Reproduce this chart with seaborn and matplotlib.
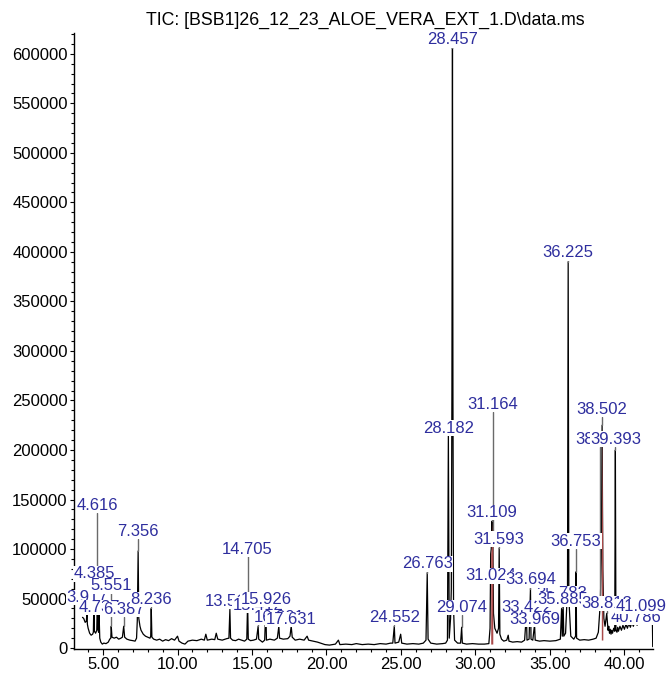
import numpy as np
import pandas as pd
import seaborn as sns
import matplotlib.pyplot as plt
from matplotlib.ticker import MultipleLocator, FormatStrFormatter

# retention time (min) and abundance
rt = [3.62, 3.70, 3.80, 3.88, 3.917, 3.95, 4.00, 4.10, 4.20, 4.30, 4.35, 4.385, 4.42, 4.50,
      4.58, 4.616, 4.65, 4.70, 4.737, 4.78, 4.85, 4.95, 5.05, 5.20, 5.35, 5.45, 5.52, 5.551,
      5.60, 5.75, 5.90, 6.05, 6.20, 6.30, 6.387, 6.45, 6.60, 6.80, 7.00, 7.15, 7.25, 7.30,
      7.356, 7.40, 7.48, 7.55, 7.70, 7.85, 8.00, 8.15, 8.20, 8.236, 8.28, 8.40, 8.60, 8.80,
      9.00, 9.20, 9.40, 9.60, 9.80, 10.00, 10.10, 10.30, 10.50, 10.70, 11.00, 11.30, 11.60,
      11.80, 11.90, 12.00, 12.30, 12.50, 12.60, 12.70, 13.00, 13.30, 13.45, 13.515, 13.56,
      13.70, 13.90, 14.10, 14.30, 14.50, 14.65, 14.705, 14.75, 14.90, 15.10, 15.30, 15.412,
      15.45, 15.70, 15.85, 15.926, 15.97, 16.20, 16.50, 16.70, 16.801, 16.85, 17.10, 17.40,
      17.55, 17.631, 17.70, 17.90, 18.20, 18.50, 18.70, 18.80, 19.10, 19.40, 19.60, 19.90,
      20.20, 20.60, 20.80, 20.90, 21.30, 21.70, 22.00, 22.40, 22.80, 23.20, 23.60, 24.00,
      24.30, 24.45, 24.552, 24.60, 24.85, 24.98, 25.05, 25.40, 25.80, 26.20, 26.50, 26.68,
      26.763, 26.82, 27.00, 27.40, 27.80, 28.00, 28.12, 28.182, 28.24, 28.33, 28.38, 28.42,
      28.457, 28.49, 28.53, 28.60, 28.80, 29.00, 29.074, 29.12, 29.40, 29.80, 30.20, 30.60,
      30.90, 30.98, 31.024, 31.06, 31.109, 31.14, 31.164, 31.21, 31.30, 31.45, 31.55, 31.593,
      31.64, 31.75, 31.90, 32.10, 32.20, 32.25, 32.50, 32.80, 33.10, 33.30, 33.422, 33.46,
      33.60, 33.694, 33.73, 33.85, 33.969, 34.01, 34.30, 34.60, 35.00, 35.40, 35.70, 35.783,
      35.83, 35.885, 35.93, 36.05, 36.18, 36.225, 36.27, 36.40, 36.60, 36.72, 36.753, 36.79,
      37.00, 37.30, 37.60, 37.90, 38.10, 38.25, 38.38, 38.45, 38.502, 38.55, 38.62, 38.70,
      38.813,
      38.90, 38.95, 39.00, 39.05, 39.10, 39.15, 39.20, 39.28, 39.35, 39.393, 39.43, 39.50,
      39.55, 39.60, 39.70, 39.80, 39.90, 40.00, 40.10, 40.20, 40.30, 40.40, 40.50, 40.60,
      40.70, 40.786, 40.85, 40.95, 41.05, 41.099, 41.15, 41.25, 41.35, 41.45, 41.55, 41.65,
      41.75, 41.85, 41.88, 41.90]
abundance = [31000, 30000, 26000, 27000, 35000, 24000, 20000, 15000, 13000, 14000, 16000, 46000,
             17000, 15000, 18000, 48000, 20000, 16000, 33000, 10000, 6000, 4000, 5000, 4500,
             6000, 9000, 10000, 22000, 11000, 10000, 11000, 9000, 10000, 11000, 22000, 11000,
             9000, 8000, 7500, 7000, 10000, 28000, 98000, 30000, 22000, 18000, 14000, 12000,
             11000, 10000, 12000, 40000, 11000, 9000, 8000, 9000, 7000, 8500, 7500, 9500, 8000,
             12000, 7000, 5000, 4000, 7000, 8000, 7500, 9000, 8000, 14000, 8000, 9000, 8500,
             15000, 9000, 8000, 9500, 10000, 39000, 10000, 8000, 7500, 9000, 8000, 7000, 9000,
             46000, 9000, 7500, 8000, 9000, 22000, 9000, 6000, 8000, 40000, 8000, 9000, 8000,
             10000, 22000, 10000, 9000, 9500, 12000, 22000, 11000, 8000, 9000, 8000, 12000, 8000,
             7000, 6000, 5000, 3500, 3000, 4000, 8000, 3500, 4000, 3500, 4500, 3500, 4000, 3500,
             4500, 4000, 5000, 5000, 22000, 5000, 6000, 14000, 5000, 4000, 4500, 4000, 5000,
             8000, 76000, 9000, 5000, 4000, 4500, 5000, 8000, 216000, 10000, 30000, 60000,
             260000, 606000, 250000, 40000, 8000, 5000, 5000, 21000, 5000, 4000, 4500, 4000,
             4000, 4500, 20000, 95000, 100000, 128000, 105000, 118000, 35000, 20000, 15000,
             20000, 101000, 14000, 9000, 7000, 8000, 13000, 7000, 6000, 6500, 6000, 8000, 35000,
             8000, 9000, 60000, 9000, 8000, 24000, 8000, 7000, 7500, 7000, 7500, 9000, 40000,
             12000, 45000, 12000, 15000, 60000, 390000, 50000, 12000, 9000, 12000, 77000, 10000,
             8000, 8500, 8000, 9000, 10000, 16000, 45000, 90000, 225000, 80000, 30000, 22000,
             35000,
             18000, 22000, 15000, 19000, 14000, 18000, 15000, 20000, 17000, 200000, 18000, 16000,
             21000, 17000, 22000, 18000, 23000, 19000, 24000, 20000, 25000, 21000, 26000, 22000,
             27000, 30000, 23000, 28000, 25000, 31000, 26000, 29000, 26000, 30000, 26000, 29000,
             27000, 29000, 27000, 1500]
assert len(rt) == len(abundance)

# integrated peak bodies drawn in red by the data system
red_windows = [(31.0, 31.17), (38.44, 38.56)]

# peak labels (drawing order) and the height their text sits at
peak_labels = ["3.917", "4.385", "5.551", "4.737", "4.616", "6.387", "7.356", "8.236",
               "13.515", "15.412", "15.926", "14.705", "16.801", "17.631", "24.552", "26.763",
               "28.182", "28.457", "29.074", "31.164", "31.109", "31.593", "31.024", "33.422",
               "33.969", "35.783", "33.694", "35.885", "36.225", "36.753", "38.502", "38.380",
               "39.393", "38.813", "40.786", "41.099"]
label_y = [51000, 75000, 63000, 41000, 144000, 39000, 118000, 49000,
           47000, 43000, 49000, 100000, 31000, 29000, 31000, 85000,
           222000, 614000, 41000, 246000, 137000, 110000, 73000, 41000,
           29000, 55000, 69000, 49000, 399000, 108000, 241000, 211000,
           211000, 45000, 31000, 42000]

y_ticks = [0, 50000, 100000, 150000, 200000, 250000, 300000, 350000, 400000, 450000,
           500000, 550000, 600000]

df = pd.DataFrame({"rt": rt, "abundance": abundance})

sns.set_theme(style="ticks")
plt.rcParams['font.family'] = ['Liberation Sans', 'DejaVu Sans']

fig = plt.figure(figsize=(6.69, 6.74), dpi=100)
ax = fig.add_axes([0.1106, 0.037, 0.8655, 0.914])

sns.lineplot(data=df, x="rt", y="abundance", ax=ax, color="black", linewidth=0.9,
             sort=False, estimator=None, zorder=2)

base = np.interp(rt, [3.6, 20, 31, 38, 42], [6000, 4000, 4000, 8000, 9000])
for lo, hi in red_windows:
    m = (df["rt"] >= lo) & (df["rt"] <= hi)
    ax.fill_between(df["rt"][m], base[m.values], df["abundance"][m], color="#a94a4a",
                    linewidth=0, zorder=2.1)

half_h = 7500  # half text height in data units
for i, lab in enumerate(peak_labels):
    x = float(lab)
    apex = np.interp(x, rt, abundance)
    bottom = label_y[i] - half_h
    if bottom > apex:
        ax.plot([x, x], [apex, bottom], color="#6a6a6a", linewidth=1, zorder=2)
    ax.text(x, label_y[i], lab, ha="center", va="center", fontsize=12, color="#2e2e9e",
            zorder=3 + i * 0.01, clip_on=False,
            bbox=dict(boxstyle="square,pad=0.02", facecolor="white", edgecolor="none"))

ax.set_xlim(3.05, 41.92)
ax.set_ylim(-1000, 621000)
ax.set_yticks(y_ticks)
ax.xaxis.set_major_locator(MultipleLocator(5))
ax.xaxis.set_minor_locator(MultipleLocator(1))
ax.yaxis.set_minor_locator(MultipleLocator(10000))
ax.xaxis.set_major_formatter(FormatStrFormatter("%.2f"))
ax.set_yticklabels([str(v) for v in y_ticks])
ax.tick_params(axis="both", which="major", labelsize=12, length=3, width=0.8, pad=1.5,
               color="black", labelcolor="black")
ax.tick_params(axis="both", which="minor", length=2, width=0.8, color="black")
ax.tick_params(axis="x", which="major", length=4, pad=2)
ax.set_xlabel("")
ax.set_ylabel("")
sns.despine(ax=ax)
for s in ["left", "bottom"]:
    ax.spines[s].set_color("black")
    ax.spines[s].set_linewidth(1)

fig.text(0.546, 0.970, "TIC: [BSB1]26_12_23_ALOE_VERA_EXT_1.D\\data.ms", ha="center",
         va="center", fontsize=12.8, color="black")

plt.savefig("out.png", dpi=100)
